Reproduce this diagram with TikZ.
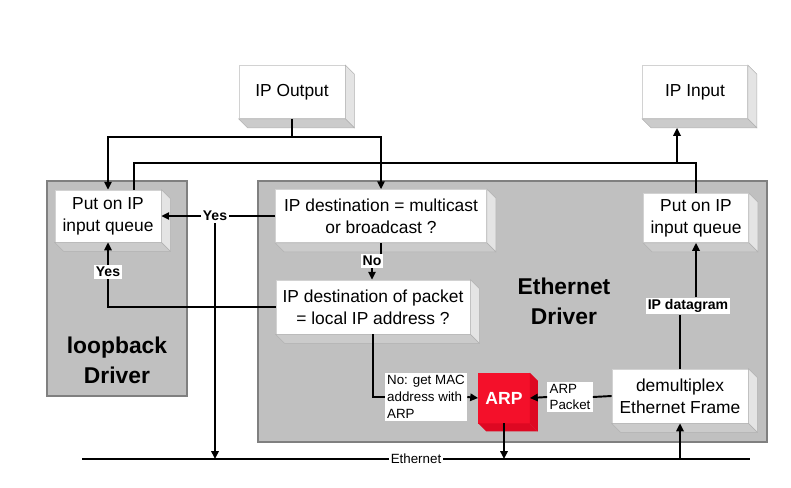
\documentclass[tikz,border=0pt]{standalone}
\usepackage{fontspec}
\setmainfont{Liberation Sans}
\usetikzlibrary{arrows.meta}
\definecolor{drvgray}{HTML}{C0C0C0}
\definecolor{sidegray}{HTML}{E4E4E4}
\definecolor{botgray}{HTML}{CBCBCB}
\definecolor{arpred}{RGB}{244,16,42}
\definecolor{arpdark}{RGB}{222,8,34}
\tikzset{
 driver/.style={fill=drvgray,draw=gray,line width=0.6pt},
 drvtext/.style={font=\fontsize{13}{17}\selectfont\bfseries,align=center},
 qbox/.style={fill=white,draw=gray!35,line width=0.4pt,inner sep=0pt,align=center,font=\fontsize{9.9}{12.5}\selectfont},
 arpbox/.style={fill=arpred,draw=arpred,inner sep=0pt,text=white,font=\fontsize{10}{12}\selectfont\bfseries},
 yesno/.style={fill=white,inner sep=1pt,font=\fontsize{8}{9.6}\selectfont\bfseries},
 note/.style={fill=white,inner sep=1.2pt,align=left,font=\fontsize{7.6}{9.6}\selectfont},
 wire/.style={line width=1.1pt},
 arr/.style={line width=1.1pt,-{Triangle[length=4.5pt,width=4.2pt]}}
}
\begin{document}
\begin{tikzpicture}[x=0.02cm,y=-0.02cm]
 \useasboundingbox (0,0) rectangle (791,487);
 \draw[driver] (47,181) rectangle (187,396);
 \draw[driver] (258,181) rectangle (767,442);
 \node[drvtext] (lbdrv) at (117,360) {loopback\\Driver};
 \node[drvtext] (ethdrv) at (564,301) {Ethernet\\Driver};
 \node[qbox,minimum width=2.12cm,minimum height=1.06cm] (out) at (292,92) {IP Output};
 \node[qbox,minimum width=2.10cm,minimum height=1.06cm] (in) at (695,92) {IP Input};
 \node[qbox,minimum width=2.12cm,minimum height=1.04cm] (lq) at (108,216) {Put on IP\\input queue};
 \node[qbox,minimum width=4.22cm,minimum height=1.06cm] (mc) at (381,216) {IP destination = multicast\\or broadcast ?};
 \node[qbox,minimum width=3.88cm,minimum height=1.08cm] (loc) at (373,307) {IP destination of packet\\= local IP address ?};
 \node[qbox,minimum width=2.10cm,minimum height=0.98cm] (rq) at (696,218) {Put on IP\\input queue};
 \node[qbox,minimum width=2.72cm,minimum height=1.08cm] (dm) at (680,396) {demultiplex\\Ethernet Frame};
 \node[arpbox,minimum width=1.02cm,minimum height=1.0cm] (arp) at (504,398) {ARP};
 \foreach \b in {out,in,lq,mc,loc,rq,dm}{
  \filldraw[fill=sidegray,draw=gray!60,line width=0.3pt] (\b.north east) -- ++(9,9) -- ([shift={(9,9)}]\b.south east) -- (\b.south east) -- cycle;
  \filldraw[fill=botgray,draw=gray!60,line width=0.3pt] (\b.south west) -- ++(9,9) -- ([shift={(9,9)}]\b.south east) -- (\b.south east) -- cycle;
 }
 \fill[arpdark] (arp.north east) -- ++(8,8) -- ([shift={(8,8)}]arp.south east) -- (arp.south east) -- cycle;
 \fill[arpdark] (arp.south west) -- ++(8,8) -- ([shift={(8,8)}]arp.south east) -- (arp.south east) -- cycle;
 \coordinate (busL) at (82,459);
 \coordinate (busR) at (750,459);
 \coordinate (bus) at (416,459);
 \draw[wire] (busL) -- (busR);
 \node[note] (eth) at (bus) {Ethernet};
 \coordinate (split) at (292,137);
 \draw[wire] (out.south) -- (split);
 \draw[arr] (split) -| (lq.north);
 \draw[arr] (split) -| (mc.north);
 \coordinate (lqup) at (134,163);
 \coordinate (tap) at (677,163);
 \draw[wire] (lq.north -| lqup) -- (lqup) -- (rq.north |- lqup) -- (rq.north);
 \draw[arr] (tap) -- ([yshift=-0.18cm]tap |- in.south);
 \node[yesno] (yes1) at (215,216) {Yes};
 \draw[wire] (mc.west) -- (yes1.east);
 \draw[arr] (yes1.west) -- (lq.east);
 \draw[arr] (yes1.south) -- (yes1.south |- bus);
 \node[yesno] (no) at (372,261) {No};
 \draw[wire] (mc.south) -- (mc.south |- no.north);
 \draw[arr] (no.south) -- (no.south |- loc.north);
 \node[yesno] (yes2) at (108,272) {Yes};
 \draw[wire] (loc.west) -| (yes2.south);
 \draw[arr] (yes2.north) -- (lq.south);
 \node[note] (getmac) at (426,397) {No: get MAC\\address with\\ARP};
 \draw[wire] (loc.south) |- (getmac.west);
 \draw[arr] (getmac.east) -- (arp.west);
 \node[note] (pkt) at (570,397) {ARP\\Packet};
 \draw[wire] (dm.west) -- (pkt.east);
 \draw[arr] (pkt.west) -- (arp.east);
 \draw[arr] (arp.south) -- (arp.south |- bus);
 \draw[arr] (dm.south |- bus) -- (dm.south);
 \node[yesno] (dg) at (688,306) {IP datagram};
 \draw[wire] (dm.north) -- (dm.north |- dg.south);
 \draw[arr] (dg.north -| rq.south) -- (rq.south);
\end{tikzpicture}
\end{document}
